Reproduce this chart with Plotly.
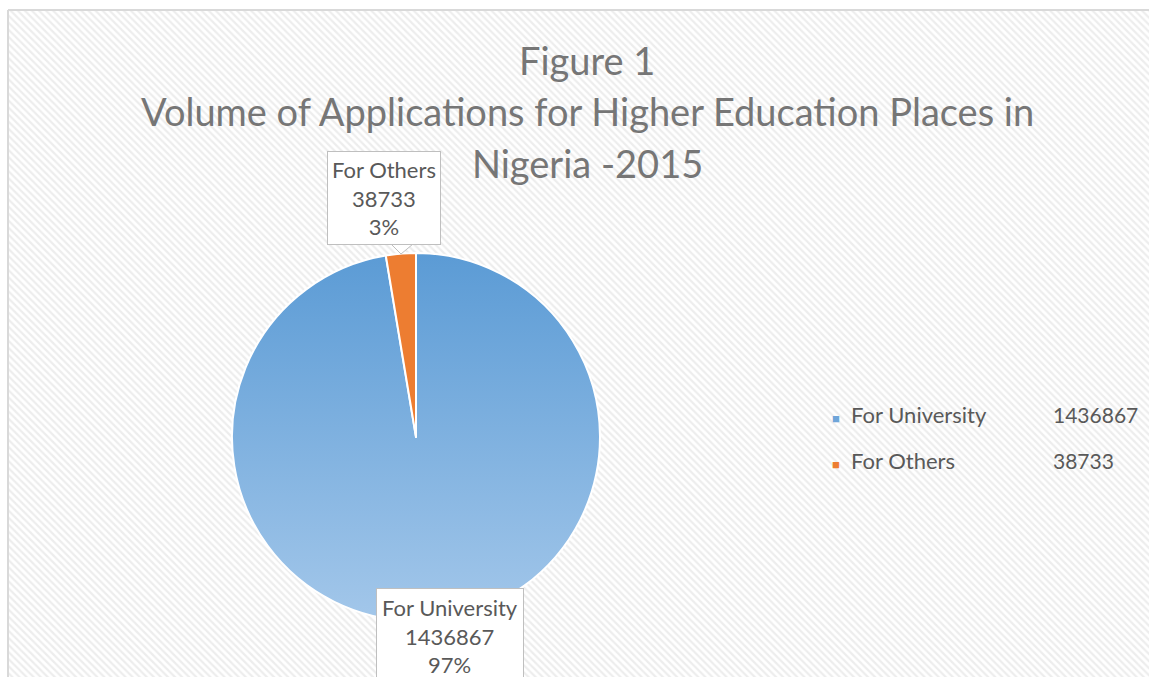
import plotly.graph_objects as go

# ---- data ----
labels = ["For University", "For Others"]
values = [1436867, 38733]
percent_labels = ["97%", "3%"]
colors = ["#7AAEDD", "#ED7D31"]
title_lines = ["Figure 1", "Volume of Applications for Higher Education Places in", "Nigeria -2015"]

W, H = 1149, 677
FONT = "Lato"
TXT = "#595959"

fig = go.Figure()

# hatched chart-area background (pixel coordinate helper axes)
fig.add_trace(go.Scatter(
    x=[8, W, W, 8, 8], y=[10, 10, H, H, 10],
    mode="lines", fill="toself", line=dict(width=0),
    fillcolor="white",
    fillpattern=dict(shape="\\", fgcolor="#dcdcdc", bgcolor="white", size=5, solidity=0.45),
    hoverinfo="skip", showlegend=False,
))

# pie
fig.add_trace(go.Pie(
    labels=labels, values=values, sort=False, direction="clockwise", rotation=0,
    marker=dict(colors=colors, line=dict(color="white", width=2)),
    textinfo="none", showlegend=False,
    domain=dict(x=[232 / W, 600 / W], y=[(H - 621) / H, (H - 253) / H]),
))

fig.update_layout(
    width=W, height=H,
    margin=dict(l=0, r=0, t=0, b=0),
    paper_bgcolor="white", plot_bgcolor="rgba(0,0,0,0)",
    xaxis=dict(range=[0, W], visible=False, domain=[0, 1], fixedrange=True),
    yaxis=dict(range=[H, 0], visible=False, domain=[0, 1], fixedrange=True),
    font=dict(family=FONT, color=TXT),
)

# border of chart area
fig.add_shape(type="line", x0=8, y0=10, x1=W, y1=10, line=dict(color="#d9d9d9", width=2), xref="x", yref="y")
fig.add_shape(type="line", x0=8, y0=10, x1=8, y1=H, line=dict(color="#d9d9d9", width=2), xref="x", yref="y")

# title
for txt, yy in zip(title_lines, [60, 111, 163]):
    fig.add_annotation(text=txt, x=587, y=yy, xref="x", yref="y", showarrow=False,
                       font=dict(size=38, color="#767676", family=FONT), xanchor="center", yanchor="middle")

# data label boxes
def fmt(i):
    return f"{labels[i]}<br>{values[i]}<br>{percent_labels[i]}"

fig.add_annotation(text=fmt(1), x=384, y=198, xref="x", yref="y", showarrow=False,
                   font=dict(size=22, color=TXT), bgcolor="white", bordercolor="#bfbfbf",
                   borderwidth=1, borderpad=4, align="center", yanchor="middle")
# callout notch for "For Others" (drawn above the box edge)
fig.add_annotation(text="", x=401, y=253, ax=401, ay=244, xref="x", yref="y", axref="x", ayref="y",
                   showarrow=True, arrowhead=0, arrowwidth=0.1, arrowcolor="rgba(0,0,0,0)")
fig.add_shape(type="path", path="M 391 244 L 401 254 L 413 244", fillcolor="white",
              line=dict(color="#bfbfbf", width=1), xref="x", yref="y")

fig.add_annotation(text=fmt(0), x=450, y=636, xref="x", yref="y", showarrow=False,
                   font=dict(size=22, color=TXT), bgcolor="white", bordercolor="#bfbfbf",
                   borderwidth=1, borderpad=5, align="center", yanchor="middle")

# legend (built from data)
legend_colors = ["#6FA5D9", "#ED7D31"]
for i, yy in enumerate([414, 460]):
    fig.add_annotation(text=f"<span style='color:{legend_colors[i]};font-size:13px'>■</span>  {labels[i]}",
                       x=830, y=yy, xref="x", yref="y", showarrow=False, xanchor="left", yanchor="middle",
                       font=dict(size=22, color=TXT))
    fig.add_annotation(text=f"{values[i]}", x=1051, y=yy, xref="x", yref="y", showarrow=False,
                       xanchor="left", yanchor="middle", font=dict(size=21, color=TXT))

post = """
var gd = document.getElementById('{plot_id}');
var svg = gd.querySelector('svg.main-svg');
var defs = svg.querySelector('defs');
var ns = 'http://www.w3.org/2000/svg';
var lg = document.createElementNS(ns, 'linearGradient');
lg.setAttribute('id', 'uniGrad');
lg.setAttribute('x1', '0'); lg.setAttribute('y1', '0');
lg.setAttribute('x2', '0'); lg.setAttribute('y2', '1');
var s1 = document.createElementNS(ns, 'stop'); s1.setAttribute('offset', '0'); s1.setAttribute('stop-color', '#5B9BD5');
var s2 = document.createElementNS(ns, 'stop'); s2.setAttribute('offset', '1'); s2.setAttribute('stop-color', '#A3C7EA');
lg.appendChild(s1); lg.appendChild(s2);
defs.appendChild(lg);
var paths = gd.querySelectorAll('g.slice path.surface');
if (paths.length > 0) { paths[0].style.fill = 'url(#uniGrad)'; }
"""

fig.write_html("out.html", post_script=post)
